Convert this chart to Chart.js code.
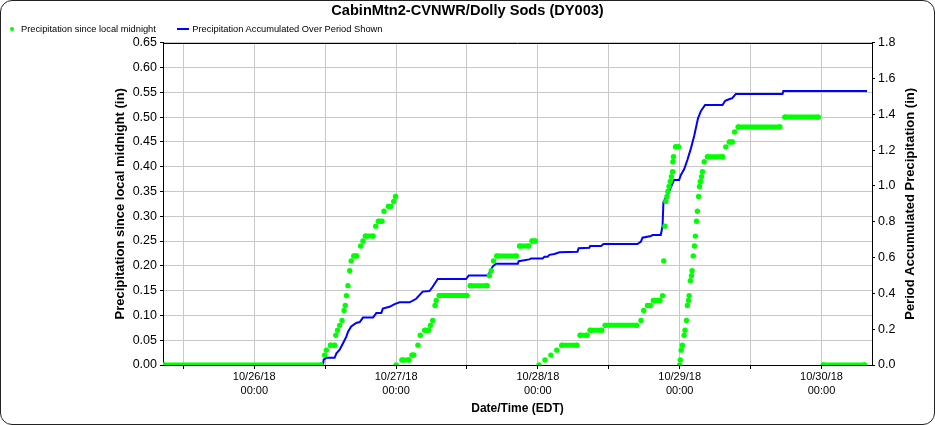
<!DOCTYPE html>
<html>
<head>
<meta charset="utf-8">
<script src="https://cdn.jsdelivr.net/npm/chart.js@4.4.1/dist/chart.umd.min.js"></script>
<style>
  html, body { margin: 0; padding: 0; background: #fff; }
  #wrap { position: relative; width: 935px; height: 425px; }
  #frame {
    position: absolute; left: 0; top: 0; width: 935px; height: 425px;
    box-sizing: border-box; border: 1.5px solid #222; border-radius: 12px;
    pointer-events: none;
  }
  .lg { position: absolute; font: 9.3px 'Liberation Sans', Arial, sans-serif; color: #000; line-height: 12px; white-space: nowrap; }
  .dot { position: absolute; left: 9.7px; top: 27px; width: 4px; height: 4px; border-radius: 50%; background: #00ff00; }
  .bar { position: absolute; left: 176.7px; top: 28px; width: 12.3px; height: 2px; background: #0000ff; }
</style>
</head>
<body>
<div id="wrap">
  <canvas id="precipChart" width="935" height="425"></canvas>
  <div class="dot"></div>
  <div class="lg" style="left:21px; top:23px;">Precipitation since local midnight</div>
  <div class="bar"></div>
  <div class="lg" style="left:192.3px; top:23px;">Precipitation Accumulated Over Period Shown</div>
  <div id="frame"></div>
</div>
<script>
// x values are hours from 10/26/18 00:00 EDT
const dayLabels = ['10/26/18', '10/27/18', '10/28/18', '10/29/18', '10/30/18'];
const timeTicks = [-12, 0, 12, 24, 36, 48, 60, 72, 84, 96];
const xMin = -15.45;
const xMax = 104.55;

// Precipitation since local midnight (in), left axis
const sinceMidnightHours = [
  -15.25, 11.3, 11.9, 12.2, 12.9, 13.6, 13.8, 14.1, 14.45, 14.85, 15.2, 15.4, 15.6, 15.85, 16.15, 16.4,
  16.85, 17.3, 18.0, 18.4, 18.8, 20.1, 20.55, 21.0, 21.6, 21.95, 22.7, 23.1, 23.6, 23.9,
  24.0, 25.0, 26.15, 26.7, 27.0, 27.7, 28.1, 28.85, 29.5, 29.8, 30.2, 30.6, 30.8, 31.3, 36.0,
  36.55, 39.4, 39.8, 40.1, 40.5, 41.05, 44.35, 44.9, 46.4, 47.0, 47.55,
  48.2, 49.2, 50.2, 51.2, 52.05, 54.6, 55.15, 56.3, 56.85, 58.8, 59.4, 64.7, 65.45, 65.9,
  66.55, 67.0, 67.55, 68.65, 69.1, 69.3, 69.5, 69.65, 69.85, 70.0, 70.2, 70.4, 70.6, 70.8,
  70.85, 70.95, 71.3, 71.8,
  72.0, 72.1, 72.25, 72.45, 72.75, 72.9, 73.15, 73.3, 73.5, 73.6, 73.8, 74.0, 74.1, 74.3,
  74.5, 74.65, 74.85, 75.0, 75.2, 75.35, 75.5, 75.7, 75.85, 76.15, 76.7, 79.25, 79.8,
  80.4, 80.9, 81.3, 81.9, 88.95, 89.8, 95.45,
  96.3, 103.3
];
const sinceMidnightValues = [
  0.00, 0.00, 0.02, 0.03, 0.04, 0.04, 0.06, 0.07, 0.08, 0.09, 0.11, 0.12, 0.14, 0.16, 0.19, 0.21,
  0.22, 0.22, 0.24, 0.25, 0.26, 0.26, 0.28, 0.29, 0.29, 0.31, 0.32, 0.32, 0.33, 0.34,
  0.00, 0.01, 0.01, 0.02, 0.02, 0.04, 0.06, 0.07, 0.07, 0.08, 0.09, 0.12, 0.13, 0.14, 0.14,
  0.16, 0.16, 0.18, 0.19, 0.21, 0.22, 0.22, 0.24, 0.24, 0.25, 0.25,
  0.00, 0.01, 0.02, 0.03, 0.04, 0.04, 0.06, 0.06, 0.07, 0.07, 0.08, 0.08, 0.09, 0.11,
  0.12, 0.12, 0.13, 0.13, 0.14, 0.21, 0.28, 0.33, 0.34, 0.35, 0.36, 0.37, 0.38, 0.39,
  0.41, 0.42, 0.44, 0.44,
  0.00, 0.01, 0.03, 0.04, 0.06, 0.07, 0.09, 0.12, 0.13, 0.14, 0.17, 0.18, 0.19, 0.22,
  0.24, 0.26, 0.29, 0.31, 0.34, 0.36, 0.37, 0.38, 0.39, 0.41, 0.42, 0.42, 0.44,
  0.45, 0.45, 0.47, 0.48, 0.48, 0.50, 0.50,
  0.00, 0.00
];

// Precipitation accumulated over period shown (in), right axis
const accumHours = [
  -15.45, 11.63, 11.75, 12.2, 13.6, 13.9, 14.45, 15.0, 15.6, 15.85, 16.4, 17.25, 17.85, 18.4, 20.1,
  20.65, 21.5, 21.75, 22.9, 23.75, 24.6, 26.3, 27.4, 28.5, 29.65, 30.2, 31.05, 35.85, 36.3,
  39.5, 39.8, 40.35, 40.9, 44.6, 44.75, 46.55, 46.85, 48.8, 49.1, 49.65, 49.95, 50.8, 51.65,
  54.7, 54.9, 56.7, 56.85, 58.7, 59.1, 64.85, 65.45, 65.7, 67.15, 67.4, 68.8, 69.1, 69.25,
  69.95, 70.8, 71.05, 71.9, 72.2, 72.75, 73.3, 73.9, 74.45, 75.1, 75.6, 76.3, 79.25, 79.7,
  80.35, 80.9, 81.5, 89.4, 89.55, 103.7
];
const accumValues = [
  0.00, 0.00, 0.03, 0.04, 0.04, 0.065, 0.085, 0.12, 0.16, 0.185, 0.215, 0.235, 0.24, 0.265, 0.265,
  0.29, 0.29, 0.315, 0.325, 0.34, 0.35, 0.35, 0.37, 0.41, 0.413, 0.437, 0.48, 0.48, 0.50,
  0.50, 0.515, 0.55, 0.565, 0.565, 0.58, 0.59, 0.595, 0.595, 0.605, 0.605, 0.615, 0.62, 0.63,
  0.633, 0.652, 0.655, 0.665, 0.665, 0.676, 0.676, 0.689, 0.711, 0.72, 0.726, 0.726, 0.776, 0.912,
  0.949, 1.015, 1.033, 1.033, 1.061, 1.093, 1.145, 1.21, 1.279, 1.378, 1.419, 1.452, 1.452, 1.476,
  1.484, 1.49, 1.514, 1.514, 1.53, 1.53
];

const green = '#00ff00';
const blue = '#0000ff';
const gridGray = '#c8c8c8';
const fontFamily = "'Liberation Sans', Arial, sans-serif";

Chart.defaults.font.family = fontFamily;
Chart.defaults.color = '#000';

// black line along the top of the plot box
const topFrame = {
  id: 'topFrame',
  beforeDatasetsDraw(chart) {
    const { ctx, chartArea } = chart;
    ctx.save();
    ctx.strokeStyle = '#000';
    ctx.lineWidth = 1;
    ctx.beginPath();
    ctx.moveTo(chartArea.left, Math.round(chartArea.top) + 0.5);
    ctx.lineTo(chartArea.right, Math.round(chartArea.top) + 0.5);
    ctx.stroke();
    ctx.restore();
  }
};

// right axis title reads bottom-to-top like the left one
const rightTitle = {
  id: 'rightTitle',
  afterDraw(chart) {
    const { ctx, chartArea } = chart;
    const y1 = chart.scales.y1;
    ctx.save();
    ctx.translate(y1.right - 20.3, (chartArea.top + chartArea.bottom) / 2);
    ctx.rotate(-Math.PI / 2);
    ctx.font = 'bold 13px ' + fontFamily;
    ctx.fillStyle = '#000';
    ctx.textAlign = 'center';
    ctx.textBaseline = 'middle';
    ctx.fillText('Period Accumulated Precipitation (in)', 0, 0);
    ctx.restore();
  }
};

const ctx = document.getElementById('precipChart').getContext('2d');

const precipChart = new Chart(ctx, {
  type: 'line',
  data: {
    datasets: [{
      label: 'Precipitation since local midnight',
      data: sinceMidnightHours.map((h, i) => ({ x: h, y: sinceMidnightValues[i] })),
      yAxisID: 'y',
      showLine: true,
      borderWidth: 5,
      borderCapStyle: 'round',
      borderColor: green,
      segment: {
        borderColor: c => c.p0.parsed.y === c.p1.parsed.y ? green : 'rgba(0,0,0,0)'
      },
      pointRadius: 2.7,
      pointBorderWidth: 0,
      pointBackgroundColor: green
    }, {
      label: 'Precipitation Accumulated Over Period Shown',
      data: accumHours.map((h, i) => ({ x: h, y: accumValues[i] })),
      yAxisID: 'y1',
      borderColor: blue,
      borderWidth: 2,
      pointRadius: 0,
      tension: 0
    }]
  },
  options: {
    responsive: false,
    animation: false,
    events: [],
    layout: { padding: { left: 4, right: 4, top: 0, bottom: 4 } },
    plugins: {
      legend: { display: false },
      tooltip: { enabled: false },
      title: {
        display: true,
        text: 'CabinMtn2-CVNWR/Dolly Sods (DY003)',
        color: '#000',
        font: { size: 14.6, weight: 'bold' },
        padding: { top: 1.8, bottom: 23.4 }
      }
    },
    scales: {
      x: {
        type: 'linear',
        min: xMin,
        max: xMax,
        afterBuildTicks: scale => {
          scale.ticks = timeTicks.map(v => ({ value: v }));
        },
        afterFit: scale => { scale.height = 56; },
        ticks: {
          autoSkip: false,
          maxRotation: 0,
          padding: 1,
          color: '#000',
          font: { size: 11, lineHeight: 1.27 },
          callback: v => (v % 24 === 0 ? [dayLabels[v / 24], '00:00'] : '')
        },
        grid: { color: gridGray, tickColor: '#000', tickLength: 4 },
        border: { color: '#000', width: 1 },
        title: {
          display: true,
          text: 'Date/Time (EDT)',
          color: '#000',
          font: { size: 12, weight: 'bold' },
          padding: { top: 0, bottom: 5.2 }
        }
      },
      y: {
        position: 'left',
        min: 0,
        max: 0.65,
        afterFit: scale => { scale.width = 159; },
        ticks: {
          stepSize: 0.05,
          padding: 3,
          color: '#000',
          font: { size: 12.5 },
          callback: v => v.toFixed(2)
        },
        grid: { color: gridGray, tickColor: '#000', tickLength: 3 },
        border: { color: '#000', width: 1 },
        title: {
          display: true,
          text: 'Precipitation since local midnight (in)',
          color: '#000',
          font: { size: 13, weight: 'bold' },
          padding: { top: 108.2, bottom: 0 }
        }
      },
      y1: {
        position: 'right',
        min: 0,
        max: 1.8,
        afterFit: scale => { scale.width = 59; },
        ticks: {
          stepSize: 0.2,
          padding: 3,
          color: '#000',
          font: { size: 12.5 },
          callback: v => v.toFixed(1)
        },
        grid: { drawOnChartArea: false, tickColor: '#000', tickLength: 3 },
        border: { color: '#000', width: 1 }
      }
    }
  },
  plugins: [topFrame, rightTitle]
});
</script>
</body>
</html>
